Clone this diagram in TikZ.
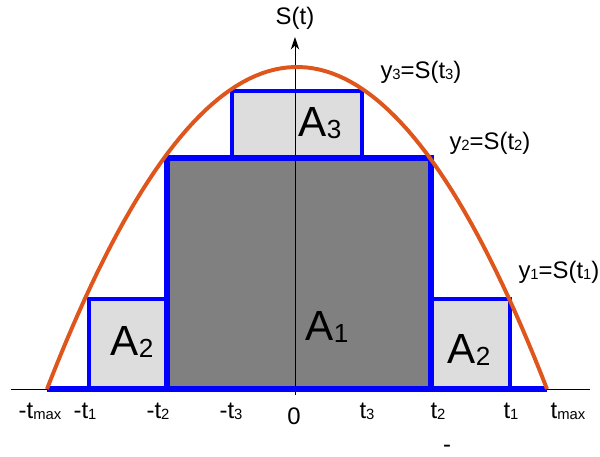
\documentclass[tikz,border=0pt]{standalone}
\usepackage{fontspec}
\setmainfont{Liberation Sans}
\usepackage{graphicx}
\usetikzlibrary{arrows.meta}

\definecolor{curveorange}{RGB}{222,86,28}
\definecolor{stepblue}{RGB}{0,0,255}
\definecolor{darkfill}{RGB}{128,128,128}
\definecolor{lightfill}{RGB}{221,221,221}

\newcommand{\ix}[1]{\raisebox{-0.1ex}{\scalebox{0.62}{#1}}}
\newcommand{\labfont}{\fontsize{17}{20}\selectfont}
\newcommand{\areafont}{\fontsize{30}{34}\selectfont}

\begin{document}
\begin{tikzpicture}[x=0.025cm, y=0.025cm,
    thinbox/.style={stepblue, line width=2.3pt},
    thickbox/.style={stepblue, line width=3.6pt},
    tlabel/.style={font=\labfont, inner sep=0pt},
    alabel/.style={font=\areafont, inner sep=0pt}]
                \useasboundingbox (-295,-67) rectangle (305,389);
                % fills
                \fill[darkfill] (-128,0) rectangle (136,231);
                \fill[lightfill] (-63,231) rectangle (67,298);
                \fill[lightfill] (-206,0) rectangle (-128,90);
                \fill[lightfill] (136,0) rectangle (215,90);
                % axes
                \draw[line width=0.7pt] (-284,0) -- (295,0);
                \draw[line width=0.7pt, -{Stealth[length=9pt, width=6pt]}] (0,-6) -- (0,352);
                % steps
                \draw[thinbox] (-63,231) rectangle (67,298);
                \draw[thinbox] (-206,0) rectangle (-128,90);
                \draw[thinbox] (136,0) rectangle (215,90);
                \draw[thickbox] (-128,0) -- (-128,231) -- (136,231) -- (136,0);
                \draw[thickbox] (-248,0) -- (252,0);
                % curve
                \draw[curveorange, line width=2.8pt] plot[domain=-248:252, samples=80] (\x,{322*(1-((\x-2)/250)^2)});
                % labels
                \node[tlabel] (St) at (0,371) {S(t)};
                \node[tlabel] (y3) at (126,317) {y\ix{3}=S(t\ix{3})};
                \node[tlabel] (y2) at (195,246) {y\ix{2}=S(t\ix{2})};
                \node[tlabel] (y1) at (264,117) {y\ix{1}=S(t\ix{1})};
                \node[alabel] (A1) at (32,62) {A\ix{1}};
                \node[alabel] (A2l) at (-163,47) {A\ix{2}};
                \node[alabel] (A2r) at (174,39) {A\ix{2}};
                \node[alabel] (A3) at (25,266) {A\ix{3}};
                \node[tlabel] (mtmax) at (-255,-22) {-t\ix{max}};
                \node[tlabel] (mt1) at (-210,-22) {-t\ix{1}};
                \node[tlabel] (mt2) at (-137,-22) {-t\ix{2}};
                \node[tlabel] (mt3) at (-64,-22) {-t\ix{3}};
                \node[tlabel] (zero) at (-1,-27) {0};
                \node[tlabel] (t3) at (72,-22) {t\ix{3}};
                \node[tlabel] (t2) at (143,-22) {t\ix{2}};
                \node[tlabel] (t1) at (216,-22) {t\ix{1}};
                \node[tlabel] (tmax) at (273,-22) {t\ix{max}};
                \node[tlabel] (dash) at (152,-60) {-};
            \end{tikzpicture}
\end{document}
